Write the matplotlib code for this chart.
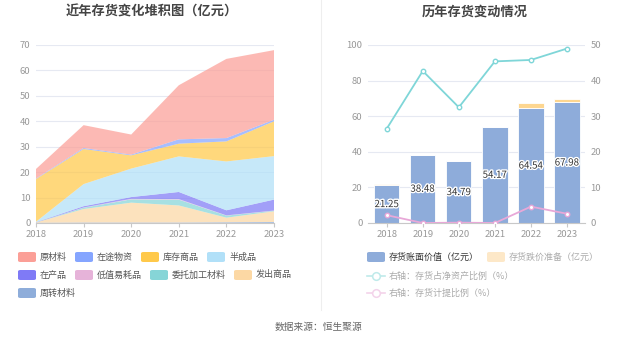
import matplotlib
matplotlib.use("Agg")
import matplotlib.pyplot as plt
from matplotlib.patches import FancyBboxPatch
from matplotlib.lines import Line2D
import matplotlib.patheffects as pe
import numpy as np

plt.rcParams['font.family'] = ['Noto Sans CJK SC', 'DejaVu Sans']

years = ['2018', '2019', '2020', '2021', '2022', '2023']

# stacked area components (bottom -> top), 亿元
zhouzhuan = [0.1, 0.2, 0.2, 0.2, 0.3, 0.4]
fachu = [0.1, 5.3, 7.8, 6.7, 1.8, 4.2]
weituo = [0.0, 0.5, 1.3, 2.3, 0.8, 0.2]
dizhi = [0.0, 0.1, 0.2, 0.2, 0.1, 0.1]
zaichan = [0.1, 0.5, 0.7, 2.8, 2.0, 4.3]
banchengpin = [0.2, 8.7, 11.2, 14.0, 19.2, 17.1]
kucun = [16.8, 13.8, 5.2, 5.0, 7.9, 13.7]
zaitu = [0.2, 0.4, 0.3, 1.7, 1.3, 0.6]
yuancailiao = [3.75, 8.98, 7.89, 21.27, 31.14, 27.38]

area_names = ['周转材料', '发出商品', '委托加工材料', '低值易耗品', '在产品', '半成品', '库存商品', '在途物资', '原材料']
area_values = [zhouzhuan, fachu, weituo, dizhi, zaichan, banchengpin, kucun, zaitu, yuancailiao]
area_colors = ['#8eadda', '#fcd8a4', '#86d5d7', '#e6b3d9', '#7f7af6', '#b1e0f8', '#ffc94a', '#85a5ff', '#fb9f97']

# right chart
book_value = [21.25, 38.48, 34.79, 54.17, 64.54, 67.98]
impairment = [0.45, 0.0, 0.0, 0.0, 3.1, 1.9]
ratio_net_assets = [26.5, 42.7, 32.5, 45.4, 45.8, 49.0]
provision_ratio = [2.2, 0.0, 0.1, 0.0, 4.6, 2.6]

W, H = 637, 344
fig = plt.figure(figsize=(W / 100, H / 100), dpi=100)

def fx(px):
    return px / W

def fy(py):
    return 1 - py / H

grid_c = '#e6e9f2'
tick_c = '#999999'
axis_c = '#c8c8c8'

# ---------------- left chart ----------------
axL = fig.add_axes([fx(36), fy(223), fx(274) - fx(36), fy(45) - fy(223)])
x = np.arange(len(years))
axL.stackplot(x, *area_values, colors=area_colors, alpha=0.72, linewidth=0)
axL.set_xlim(0, 5)
axL.set_ylim(0, 70)
axL.set_yticks(range(0, 71, 10))
axL.set_xticks(x)
axL.set_xticklabels(years)
axL.grid(axis='y', color=grid_c, linewidth=0.8)
axL.set_axisbelow(True)
for s in ['top', 'right', 'left']:
    axL.spines[s].set_visible(False)
axL.spines['bottom'].set_color(axis_c)
axL.tick_params(axis='y', length=0, colors=tick_c, labelsize=6.8, pad=4)
axL.tick_params(axis='x', length=3, color=axis_c, colors=tick_c, labelsize=6.8, pad=2)

fig.text(fx(152), fy(12), '近年存货变化堆积图（亿元）', ha='center', va='center',
         fontsize=9.5, fontweight='bold', color='#444444')

# ---------------- right chart ----------------
axR = fig.add_axes([fx(368), fy(223), fx(585) - fx(368), fy(45) - fy(223)])
axR.bar(x, book_value, width=0.7, color='#8eacda', edgecolor='white', linewidth=0.6, zorder=2)
axR.bar(x, impairment, bottom=book_value, width=0.7, color='#fdd690', edgecolor='white', linewidth=0.6, zorder=2)
axR.set_xlim(-0.52, 5.5)
axR.set_ylim(0, 100)
axR.set_yticks(range(0, 101, 20))
axR.set_xticks(x)
axR.set_xticklabels(years)
axR.grid(axis='y', color=grid_c, linewidth=0.8, zorder=0)
axR.set_axisbelow(True)
for s in ['top', 'right', 'left']:
    axR.spines[s].set_visible(False)
axR.spines['bottom'].set_color(axis_c)
axR.tick_params(axis='y', length=0, colors=tick_c, labelsize=6.8, pad=4)
axR.tick_params(axis='x', length=3, color=axis_c, colors=tick_c, labelsize=6.8, pad=2)

for xi, v in zip(x, book_value):
    axR.text(xi, v / 2, f'{v:.2f}', ha='center', va='center', fontsize=7, color='#333333',
             zorder=5, path_effects=[pe.withStroke(linewidth=2, foreground='white')])

axR2 = axR.twinx()
axR2.set_ylim(0, 50)
axR2.set_yticks(range(0, 51, 10))
for s in ['top', 'right', 'left', 'bottom']:
    axR2.spines[s].set_visible(False)
axR2.tick_params(axis='y', length=0, colors=tick_c, labelsize=6.8, pad=4)
axR2.plot(x, ratio_net_assets, color='#7fd6d8', linewidth=1.3, marker='o', markersize=3.2,
          markerfacecolor='white', markeredgecolor='#7fd6d8', markeredgewidth=1)
axR2.plot(x, provision_ratio, color='#e8a8d8', linewidth=1.3, marker='o', markersize=3.2,
          markerfacecolor='white', markeredgecolor='#e8a8d8', markeredgewidth=1)

fig.text(fx(475), fy(12), '历年存货变动情况', ha='center', va='center',
         fontsize=9.5, fontweight='bold', color='#444444')

# divider
fig.add_artist(Line2D([fx(321), fx(321)], [fy(0), fy(310)], color='#eeeeee', linewidth=0.8))

# ---------------- legends ----------------
def patch(px, py, color, alpha=1.0):
    fig.add_artist(FancyBboxPatch((fx(px), fy(py + 5)), fx(18), fy(0) - fy(10),
                                  boxstyle='round,pad=0,rounding_size=0.004',
                                  transform=fig.transFigure, facecolor=color,
                                  edgecolor='none', alpha=alpha))

def ltext(px, py, s, color='#555555'):
    fig.text(fx(px), fy(py), s, ha='left', va='center', fontsize=6.5, color=color)

legend_colors = {n: c for n, c in zip(area_names, area_colors)}
left_items = [
    ('原材料', 18, 257), ('在途物资', 75, 257), ('库存商品', 141, 257), ('半成品', 207, 257),
    ('在产品', 18, 275), ('低值易耗品', 75, 275), ('委托加工材料', 150, 275), ('发出商品', 234, 275),
    ('周转材料', 18, 293),
]
for name, px, py in left_items:
    patch(px, py, legend_colors[name])
    ltext(px + 22, py, name)

patch(367, 257, '#8eacda')
ltext(389, 257, '存货账面价值（亿元）', '#333333')
patch(487, 257, '#fde8c8')
ltext(509, 257, '存货跌价准备（亿元）', '#aaaaaa')

for py, col, label in [(276, '#bfeaea', '右轴：存货占净资产比例（%）'),
                       (293, '#f3d3ea', '右轴：存货计提比例（%）')]:
    fig.add_artist(Line2D([fx(367), fx(385)], [fy(py), fy(py)], color=col, linewidth=1.2))
    fig.add_artist(Line2D([fx(376)], [fy(py)], color=col, marker='o', markersize=5.5,
                          markerfacecolor='white', markeredgecolor=col, markeredgewidth=1.1,
                          linestyle='none'))
    ltext(389, py, label, '#aaaaaa')

fig.text(fx(319), fy(327), '数据来源：恒生聚源', ha='center', va='center', fontsize=7, color='#666666')

fig.savefig('out.png', dpi=100)
